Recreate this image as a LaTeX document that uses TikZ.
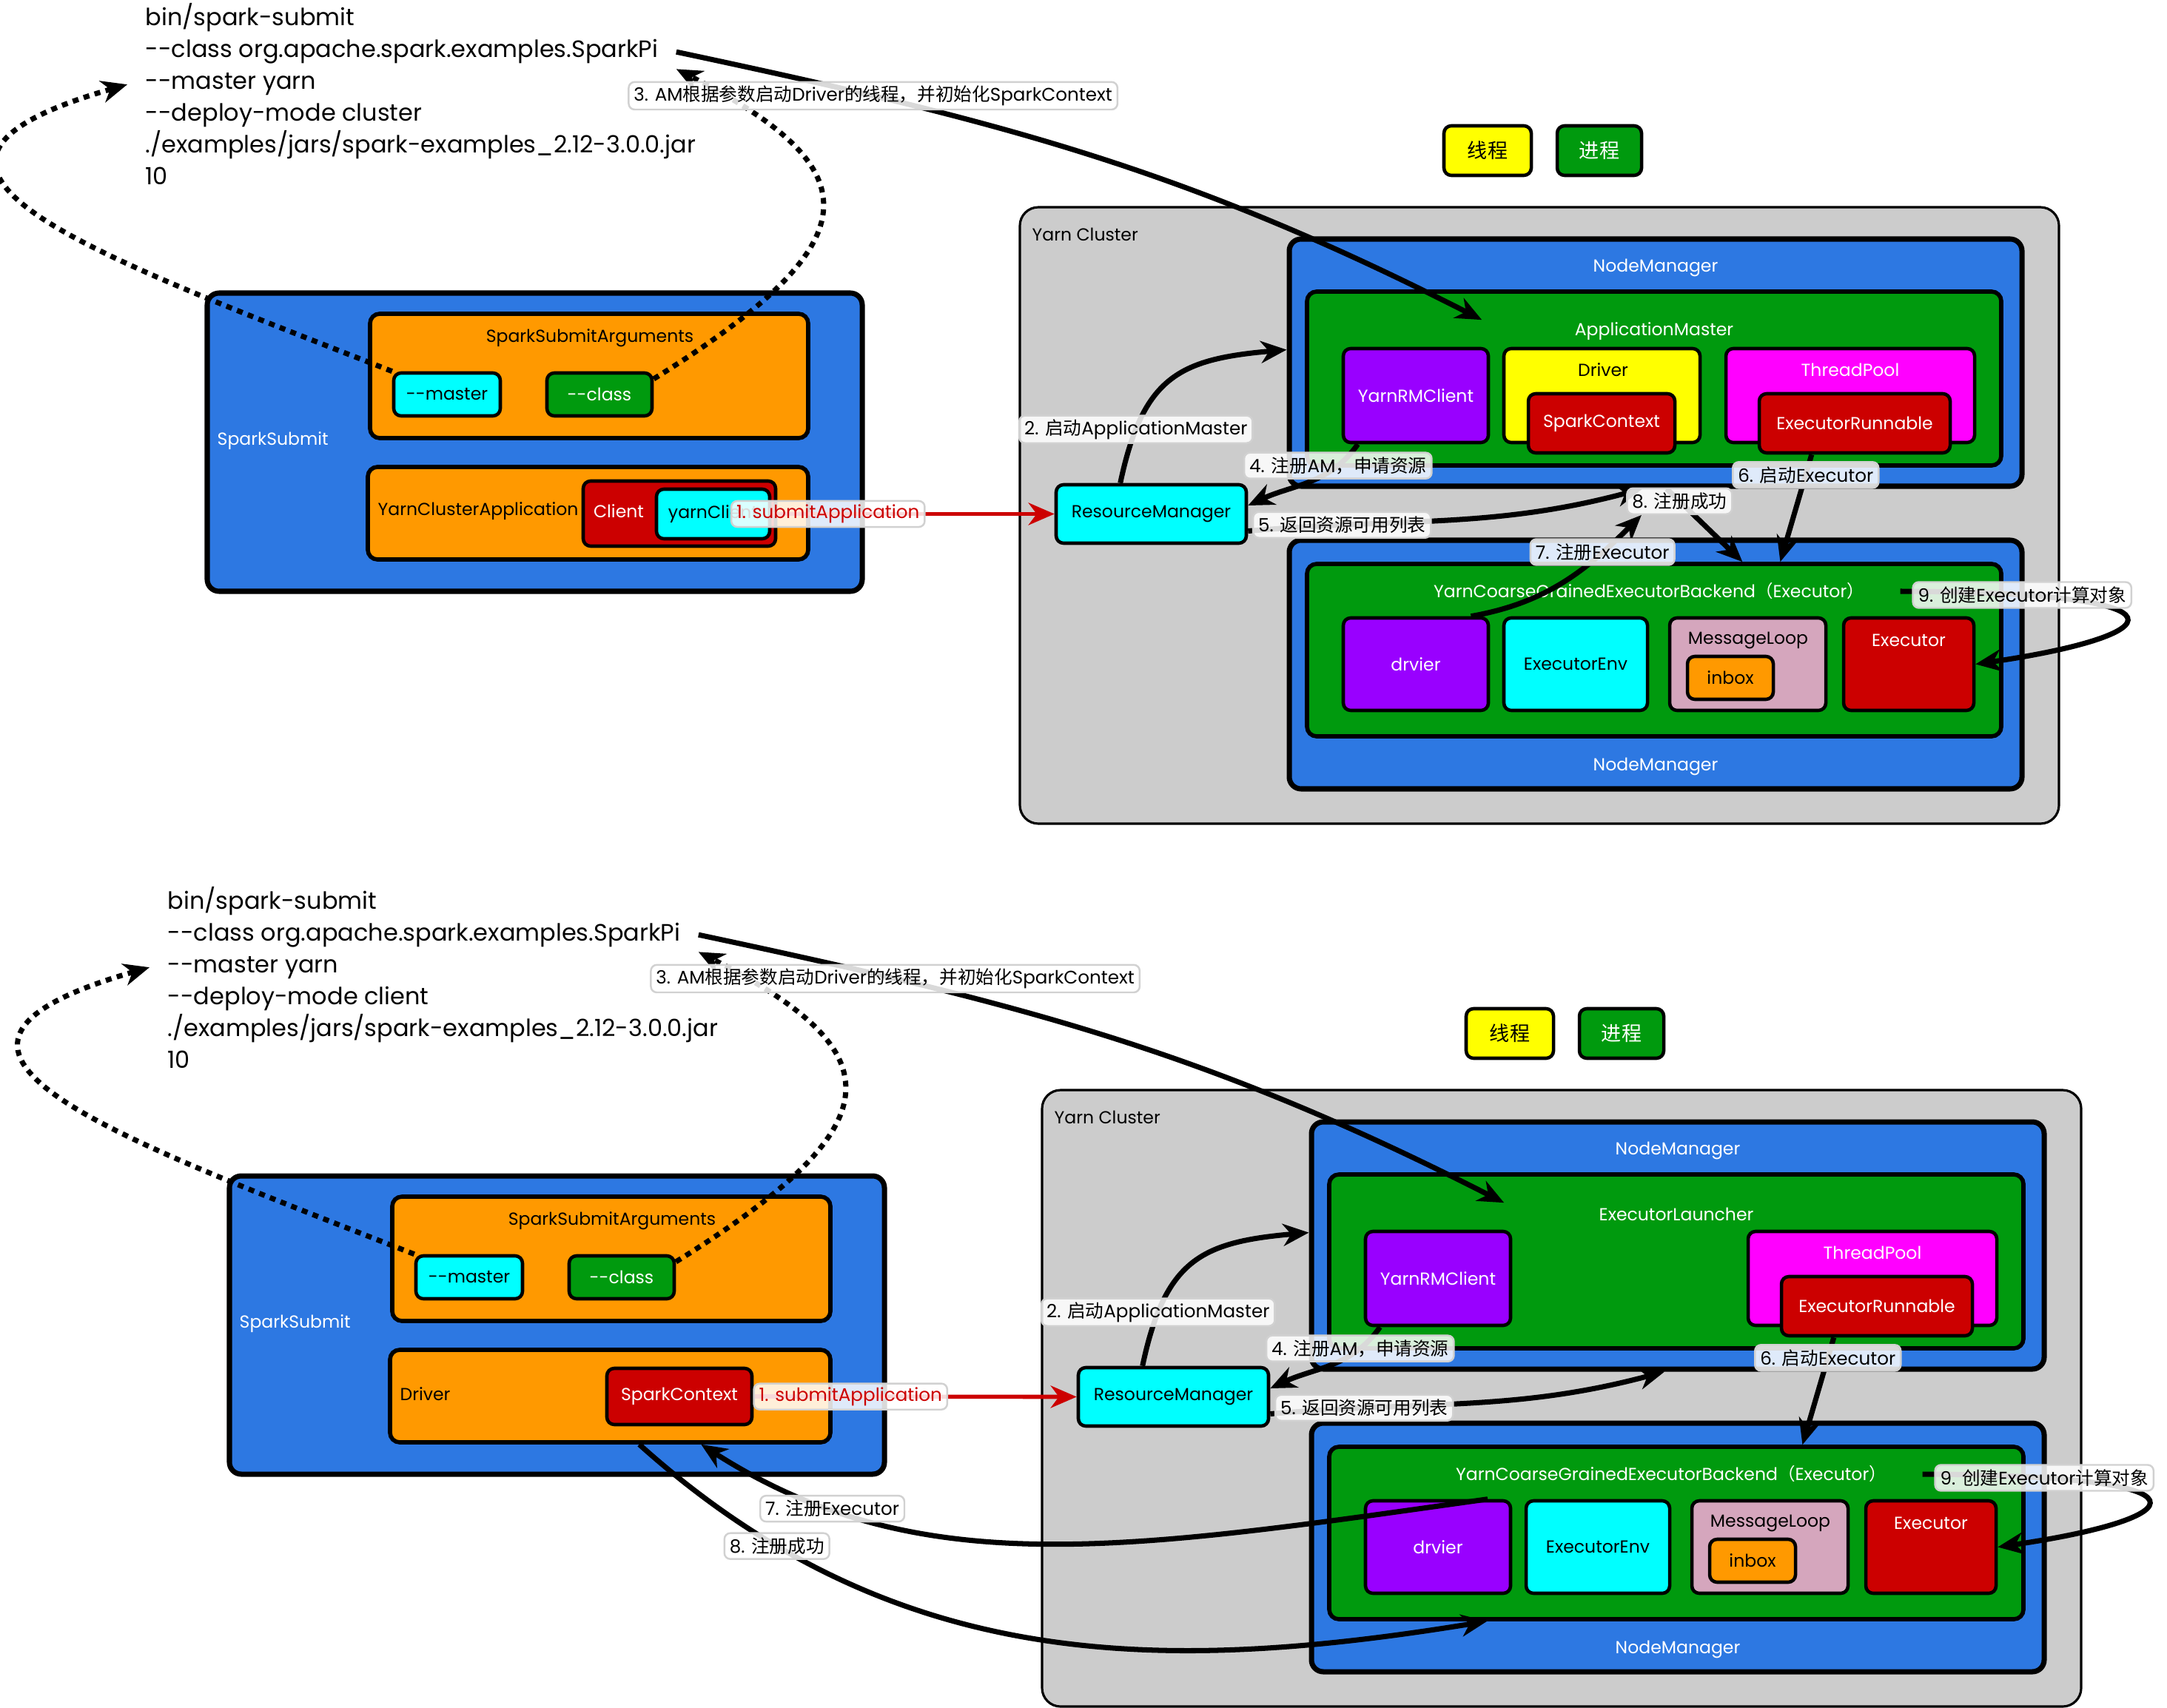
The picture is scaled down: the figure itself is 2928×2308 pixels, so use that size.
\documentclass[tikz,border=0pt]{standalone}
\usepackage{fontspec}
\setmainfont{Poppins}
\newfontfamily\zhfont{Noto Sans CJK SC}
\usetikzlibrary{arrows.meta}
\definecolor{ssblue}{HTML}{2D78E2}
\definecolor{org}{HTML}{FF9900}
\definecolor{cyn}{HTML}{00FFFF}
\definecolor{grn}{HTML}{009A0E}
\definecolor{rd}{HTML}{CC0000}
\definecolor{pur}{HTML}{9900FF}
\definecolor{ylw}{HTML}{FFFF00}
\definecolor{mag}{HTML}{FF00FF}
\definecolor{pnk}{HTML}{D5A6BD}
\definecolor{clgray}{HTML}{CCCCCC}
\newcommand\zh[1]{{\zhfont #1}}
\newcommand\dd{-\kern0pt-}
\newcommand\boxfont{\fontsize{6.7}{8}\selectfont}
\newcommand\tagfont{\fontsize{7}{8}\selectfont}
\newcommand\cmdfont{\fontsize{9.1}{10}\selectfont}
\newcommand\legfont{\zhfont\fontsize{7.7}{9}\selectfont}

\newcommand\halfboxes[3]{%
  \foreach \cl [count=\i] in {bin/spark-submit, \dd class org.apache.spark.examples.SparkPi, \dd master yarn, \dd deploy-mode #1, ./examples/jars/spark-examples\_2.12-3.0.0.jar, 10}
    \node[cmd] (c\i) at (172,{35+43*(\i-1)}) {\cl};
  \node[box, fill=ylw, sz={118}{67}, font=\legfont] (lg1) at (2010,203.5) {线程};
  \node[box, fill=grn, text=white, sz={114}{67}, font=\legfont] (lg2) at (2161,203.5) {进程};
  \node[bigbox, fill=ssblue, sz={885}{403}] (ss) at (722.5,597.5) {};
  \node[txt, text=white, anchor=west] (sst) at (285,596) {SparkSubmit};
  \node[midbox, fill=org, sz={592}{168}] (sa) at (796,508) {};
  \node[txt] (sat) at (797,457) {SparkSubmitArguments};
  \node[box, fill=cyn, sz={144}{58}] (mst) at (604,533) {\dd master};
  \node[box, fill=grn, text=white, sz={142}{58}] (cls) at (810,533) {\dd class};
  \node[midbox, fill=org, sz={595}{125}] (sb) at (794.5,693.5) {};
  \node[txt, anchor=west] (sbt) at (502,691) {#3};
  \node[box, line width=0.9pt, rounded corners=2.5mm, fill=clgray, sz={1404}{833}] (yc) at (2080,696.5) {};
  \node[txt, anchor=west] (yct) at (1386,317) {Yarn Cluster};
  \node[bigbox, fill=ssblue, sz={990}{334}] (nm1) at (2237,490) {};
  \node[txt, text=white] (nm1t) at (2237,362) {NodeManager};
  \node[midbox, fill=grn, sz={938}{235}] (am) at (2235,511.5) {};
  \node[txt, text=white] (amt) at (2235,448) {#2};
  \node[box, fill=pur, text=white, sz={196}{127}] (rc) at (1913,534.5) {YarnRMClient};
  \node[box, fill=mag, sz={336}{127}] (tp) at (2500,534.5) {};
  \node[txt, text=white] (tpt) at (2500,500) {ThreadPool};
  \node[box, fill=rd, text=white, sz={258}{80}] (er) at (2506,572) {ExecutorRunnable};
  \node[box, fill=cyn, sz={257}{79}] (rm) at (1555.5,694.5) {ResourceManager};
  \node[bigbox, fill=ssblue, sz={990}{336}] (nm2) at (2237,898) {};
  \node[txt, text=white] (nm2t) at (2237,1036) {NodeManager};
  \node[midbox, fill=grn, sz={938}{233}] (yb) at (2235,878.5) {};
  \node[txt, text=white] (ybt) at (2228,799) {YarnCoarseGrainedExecutorBackend\zh{（}Executor\zh{）}};
  \node[box, fill=pur, text=white, sz={196}{125}] (drv) at (1913,897.5) {drvier};
  \node[box, fill=cyn, sz={194}{125}] (env) at (2129,897.5) {ExecutorEnv};
  \node[box, fill=pnk, sz={211}{125}] (ml) at (2361.5,897.5) {};
  \node[txt] (mlt) at (2362,865) {MessageLoop};
  \node[box, fill=org, sz={116}{58}] (ib) at (2338,916) {inbox};
  \node[box, fill=rd, sz={176}{125}] (ex) at (2579,897.5) {};
  \node[txt, text=white] (ext) at (2579,865) {Executor};
}

\newcommand\halfedges{%
  \draw[hint] (mst.north west) .. controls +(-419,-164) and +(-384,110) .. (c3.west);
  \draw[hint] (cls.16) .. controls +(297,-185) and +(267,137) .. (c2.south east);
  \draw[flow] (c2.east) to[out=-12, in=153] node[tag, pos=0.22] (l3) {3. AM\zh{根据参数启动}Driver\zh{的线程，并初始化}SparkContext} ([xshift=23.9mm, yshift=-4.1mm]am.north west);
  \draw[flow] (rm.135) to[out=78, in=185, looseness=1.3] node[tag, pos=0.2] (l2) {2. \zh{启动}ApplicationMaster} (nm1.178);
  \draw[flow] (rc.220) to[out=235, in=25] node[tag, pos=0.22] (l4) {4. \zh{注册}AM\zh{，申请资源}} (rm.5);
  \draw[flow] (rm.-10) to[out=5, in=195] node[tag, pos=0.22] (l5) {5. \zh{返回资源可用列表}} (nm1.264);
  \draw[flow] (er.216) -- node[tag, pos=0.19] (l6) {6. \zh{启动}Executor} (yb.35);
  \draw[flow] ([xshift=4mm]ybt.east) .. controls +(416,2) and +(260,-38) .. (ex.east) node[tag, pos=0.16] (l9) {9. \zh{创建}Executor\zh{计算对象}};
}

\begin{document}
\begin{tikzpicture}[x=0.1mm, y=-0.1mm,
  box/.style={draw, line width=1.3pt, rounded corners=1mm, inner sep=0pt, align=center, font=\boxfont},
  midbox/.style={box, line width=1.6pt, rounded corners=1.3mm},
  bigbox/.style={box, line width=2pt, rounded corners=1.6mm},
  sz/.style 2 args={minimum width=#1*0.1mm, minimum height=#2*0.1mm},
  txt/.style={inner sep=0.8mm, font=\boxfont},
  cmd/.style={anchor=base west, inner xsep=2.4mm, inner ysep=0.6mm, font=\cmdfont},
  tag/.style={draw=black!18, line width=0.7pt, rounded corners=0.8mm, fill=white, fill opacity=0.85, text opacity=1, inner xsep=0.7mm, inner ysep=0.5mm, minimum height=3.5mm, font=\tagfont},
  flow/.style={line width=2pt, -{Stealth[length=3.5mm, width=3mm, inset=1.1mm]}},
  hint/.style={flow, dash pattern=on 0.8mm off 0.75mm},
  submit/.style={draw=rd, line width=1.6pt, -{Stealth[length=3.5mm, width=3mm, inset=1.1mm]}}]
  \fill[white] (0,0) rectangle (2928,2308);
  \useasboundingbox (0,0) rectangle (2928,2308);

  \begin{scope}[name prefix=a-]
    \halfboxes{cluster}{ApplicationMaster}{YarnClusterApplication}
    \node[box, fill=ylw, sz={265}{127}] (dvr) at (2164.5,534.5) {};
    \node[txt] (dvrt) at (2166,500) {Driver};
    \node[box, fill=rd, text=white, sz={198}{80}] (sc) at (2164,572) {SparkContext};
    \node[box, fill=rd, sz={260}{88}] (cli) at (918,694) {};
    \node[txt, text=white] (clit) at (836,691) {Client};
    \node[box, fill=cyn, sz={153}{67}] (ycl) at (963.5,694.5) {yarnClient};
    \halfedges
    \draw[submit] (ycl.east) -- node[tag, text=rd, pos=0.2] (l1) {1. submitApplication} (rm.west);
    \draw[flow] (nm1.-85) -- node[tag, pos=0.17] (l8) {8. \zh{注册成功}} (yb.45);
    \draw[flow] (drv.41) to[out=10, in=-135] node[tag, pos=0.75] (l7) {7. \zh{注册}Executor} (l8.200);
  \end{scope}

  \begin{scope}[shift={(30,1193)}, name prefix=b-]
    \halfboxes{client}{ExecutorLauncher}{Driver}
    \node[box, fill=rd, text=white, sz={196}{76}] (sc) at (888,694) {SparkContext};
    \halfedges
    \draw[submit] (sc.east) -- node[tag, text=rd, pos=0.3] (l1) {1. submitApplication} (rm.west);
    \draw[flow] (drv.44) .. controls +(-485,68) and +(295,189) .. (sb.-28) node[tag, pos=0.8] (l7) {7. \zh{注册}Executor};
    \draw[flow] (sb.-59) .. controls +(341,306) and +(-449,73) .. (yb.205) node[tag, pos=0.18] (l8) {8. \zh{注册成功}};
  \end{scope}
\end{tikzpicture}
\end{document}
